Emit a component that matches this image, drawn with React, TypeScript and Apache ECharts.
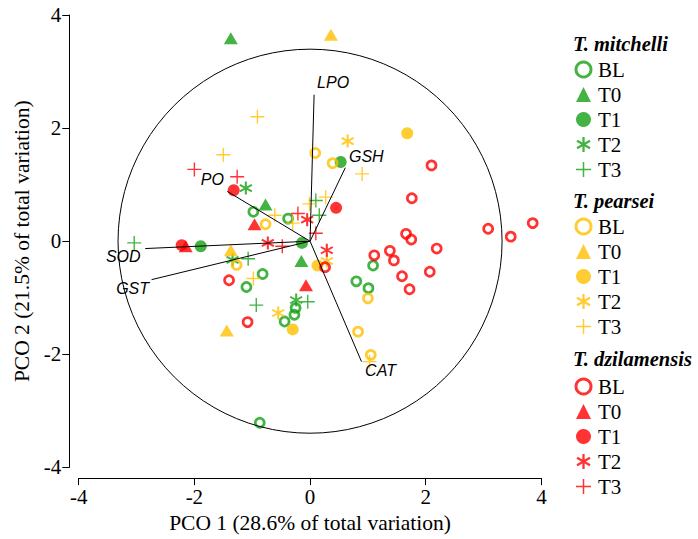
import React, { useEffect, useRef } from 'react';
import * as echarts from 'echarts';

const GREEN = '#14a014';
const YELLOW = '#ffc000';
const RED = '#ff0000';

const species = ['T. mitchelli', 'T. pearsei', 'T. dzilamensis'];
const treatments = ['BL', 'T0', 'T1', 'T2', 'T3'];

// T. mitchelli
const mitchelliBL = [[-0.98, 0.52], [-0.38, 0.4], [-0.82, -0.58], [-1.1, -0.81], [-0.25, -1.18], [-0.27, -1.3], [-0.44, -1.42], [1.09, -0.43], [0.8, -0.71], [1.01, -0.83], [-0.87, -3.21]];
const mitchelliT0 = [[-1.37, 3.59], [-0.77, 0.65], [-0.15, -0.35]];
const mitchelliT1 = [[0.53, 1.4], [-1.89, -0.09], [-0.14, -0.03]];
const mitchelliT2 = [[-1.11, 0.94], [-1.34, -0.33], [-0.24, -1.04]];
const mitchelliT3 = [[-3.04, -0.03], [-1.07, -0.31], [0.1, 0.72], [0.16, 0.46], [-0.93, -1.13], [-0.04, -1.07]];

// T. pearsei
const pearseiBL = [[0.09, 1.56], [0.39, 1.38], [-0.77, 0.3], [-1.27, -0.42], [1.0, -1.01], [0.83, -1.6], [1.05, -2.01]];
const pearseiT0 = [[0.36, 3.65], [-1.37, -0.16], [-1.44, -1.58]];
const pearseiT1 = [[1.68, 1.91], [0.13, -0.43], [-0.3, -1.56]];
const pearseiT2 = [[0.65, 1.77], [0.29, -0.35], [-0.55, -1.27]];
const pearseiT3 = [[-0.91, 2.2], [-1.5, 1.53], [0.9, 1.19], [-0.61, 0.46], [-0.3, 0.32], [-0.01, 0.66], [0.27, 0.78], [-0.98, -0.66], [1.03, -2.13]];

// T. dzilamensis
const dzilamensisBL = [[2.1, 1.34], [1.76, 0.76], [1.66, 0.13], [1.75, 0.03], [3.08, 0.22], [3.85, 0.32], [3.47, 0.08], [1.11, -0.25], [1.38, -0.17], [1.45, -0.34], [2.19, -0.13], [1.59, -0.62], [2.07, -0.54], [1.72, -0.85], [0.26, -0.46], [-1.4, -0.69], [-1.08, -1.43]];
const dzilamensisT0 = [[-2.15, -0.09], [-0.96, 0.3], [-0.07, -0.78]];
const dzilamensisT1 = [[-1.32, 0.9], [0.45, 0.59], [-2.22, -0.07]];
const dzilamensisT2 = [[-0.73, -0.03], [-0.05, 0.38], [0.29, -0.16]];
const dzilamensisT3 = [[-2.0, 1.27], [-1.26, 1.14], [-0.21, 0.49], [-0.48, -0.09], [0.1, 0.14]];

const speciesData = [
  [mitchelliBL, mitchelliT0, mitchelliT1, mitchelliT2, mitchelliT3],
  [pearseiBL, pearseiT0, pearseiT1, pearseiT2, pearseiT3],
  [dzilamensisBL, dzilamensisT0, dzilamensisT1, dzilamensisT2, dzilamensisT3],
];

// Vector overlay (variables)
const vectorNames = ['LPO', 'GSH', 'PO', 'SOD', 'GST', 'CAT'];
const vectorX = [0.07, 0.61, -1.43, -2.85, -2.74, 0.89];
const vectorY = [2.59, 1.3, 0.88, -0.13, -0.68, -2.13];
const circleRadius = 3.32;

// styling
const speciesColors = [GREEN, YELLOW, RED];
const labelOffsets: Record<string, [number, number]> = {
  LPO: [19, -12], GSH: [21, -11], PO: [-15, -12], SOD: [-22, 8], GST: [-19, 9], CAT: [19, 9],
};
const PLUS = 'path://M9,0L11,0L11,9L20,9L20,11L11,11L11,20L9,20L9,11L0,11L0,9L9,9Z';
const ASTER = 'path://M8.5,20L11.5,20L11.5,0L8.5,0ZM17.91,16.3L19.41,13.7L2.09,3.7L0.59,6.3ZM0.59,13.7L2.09,16.3L19.41,6.3L17.91,3.7Z';
const legendTops = [59, 216, 376];
const headerTops = [34, 191, 349];
const SERIF = '"Liberation Serif", "Times New Roman", serif';

function symbolStyle(t: string, color: string) {
  switch (t) {
    case 'BL':
      return { symbol: 'circle', symbolSize: 9, itemStyle: { color: 'rgba(0,0,0,0)', borderColor: color, borderWidth: 2.7 } };
    case 'T0':
      return { symbol: 'triangle', symbolSize: [14, 12], itemStyle: { color } };
    case 'T1':
      return { symbol: 'circle', symbolSize: 12, itemStyle: { color } };
    case 'T2':
      return { symbol: ASTER, symbolSize: 13, itemStyle: { color } };
    default:
      return { symbol: PLUS, symbolSize: 14, itemStyle: { color } };
  }
}

export default function App() {
  const ref = useRef<HTMLDivElement>(null);
  useEffect(() => {
    if (!ref.current) return;
    const chart = echarts.init(ref.current, undefined, { renderer: 'svg' });

    const scatterSeries: any[] = [];
    species.forEach((s, si) => {
      treatments.forEach((t, ti) => {
        scatterSeries.push({
          type: 'scatter',
          name: `${s} ${t}`,
          data: speciesData[si][ti],
          ...symbolStyle(t, speciesColors[si]),
          z: 3,
        });
      });
    });

    const circleSeries = {
      type: 'custom',
      name: 'circle',
      data: [[0, 0, circleRadius]],
      clip: false,
      silent: true,
      z: 5,
      renderItem: (_params: any, api: any) => {
        const c = api.coord([api.value(0), api.value(1)]);
        const r = api.size([api.value(2), 0])[0];
        return { type: 'circle', shape: { cx: c[0], cy: c[1], r }, style: { fill: 'none', stroke: '#000', lineWidth: 1 } };
      },
    };

    const vectorSeries = {
      type: 'custom',
      name: 'vectors',
      data: vectorNames.map((n, i) => [vectorX[i], vectorY[i], n]),
      clip: false,
      silent: true,
      z: 6,
      renderItem: (params: any, api: any) => {
        const o = api.coord([0, 0]);
        const e = api.coord([api.value(0), api.value(1)]);
        const name = vectorNames[params.dataIndex];
        const off = labelOffsets[name];
        return {
          type: 'group',
          children: [
            { type: 'line', shape: { x1: o[0], y1: o[1], x2: e[0], y2: e[1] }, style: { stroke: '#000', lineWidth: 1 } },
            {
              type: 'text',
              x: e[0] + off[0],
              y: e[1] + off[1],
              style: {
                text: name,
                fill: '#000',
                font: 'italic 16px "Liberation Sans", Arial, sans-serif',
                align: 'center',
                verticalAlign: 'middle',
              },
            },
          ],
        };
      },
    };

    const axisCommon = {
      type: 'value',
      min: -4,
      max: 4,
      interval: 2,
      axisLine: { show: true, onZero: false, lineStyle: { color: '#000', width: 1 } },
      axisTick: { show: true, inside: false, length: 7, lineStyle: { color: '#000', width: 1 } },
      axisLabel: { color: '#000', fontFamily: SERIF, fontSize: 21, margin: 8 },
      splitLine: { show: false },
      nameLocation: 'middle',
      nameTextStyle: { color: '#000', fontFamily: SERIF, fontSize: 21.5 },
    };

    chart.setOption({
      animation: false,
      backgroundColor: '#fff',
      grid: { left: 78.7, top: 15, width: 462.7, height: 460, containLabel: false },
      xAxis: {
        ...axisCommon,
        offset: 10.7,
        name: 'PCO 1 (28.6% of total variation)',
        nameGap: 30.5,
      },
      yAxis: {
        ...axisCommon,
        offset: 9.4,
        name: 'PCO 2 (21.5% of total variation)',
        nameGap: 36.5,
      },
      legend: species.map((s, si) => ({
        orient: 'vertical',
        left: 574.5,
        top: legendTops[si],
        padding: 0,
        itemWidth: 15,
        itemHeight: 15,
        itemGap: 4,
        selectedMode: false,
        data: treatments.map((t) => (t === 'BL' ? { name: `${s} ${t}`, itemStyle: { borderWidth: 3 } } : { name: `${s} ${t}` })),
        formatter: (n: string) => n.slice(s.length + 1),
        textStyle: { color: '#000', fontFamily: SERIF, fontSize: 21, padding: [0, 0, 0, 2] },
      })),
      graphic: species.map((s, si) => ({
        type: 'text',
        left: 573,
        top: headerTops[si],
        style: { text: s, fill: '#000', font: `italic bold 20.5px ${SERIF}` },
      })),
      series: [...scatterSeries, circleSeries, vectorSeries],
    });

    return () => chart.dispose();
  }, []);

  return <div ref={ref} style={{ position: 'fixed', left: 0, top: 0, width: 698, height: 539 }} />;
}
